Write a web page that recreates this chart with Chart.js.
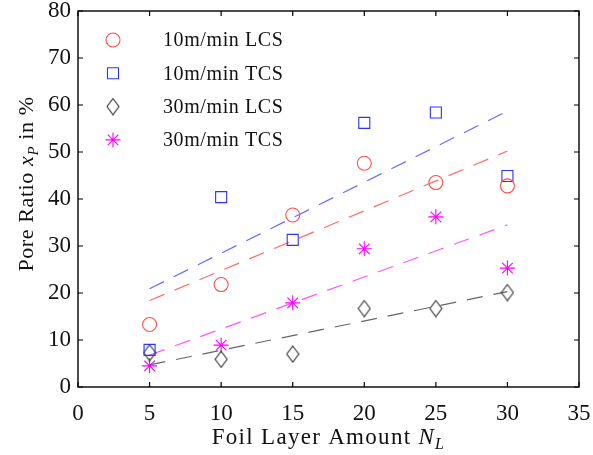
<!DOCTYPE html>
<html>
<head>
<meta charset="utf-8">
<script src="https://cdn.jsdelivr.net/npm/chart.js@4.4.0/dist/chart.umd.min.js"></script>
<style>
  html, body { margin: 0; padding: 0; background: #fff; }
  canvas { display: block; }
</style>
</head>
<body>
<canvas id="poreChart" width="593" height="455"></canvas>
<script>
// ── Data ──
const LAYERS = [5, 10, 15, 20, 25, 30];
const LCS_10 = [13.3, 21.8, 36.6, 47.6, 43.5, 42.8];
const TCS_10 = [7.9, 40.4, 31.3, 56.2, 58.4, 44.9];
const LCS_30 = [7.3, 5.9, 7.0, 16.7, 16.7, 20.1];
const TCS_30 = [4.5, 8.9, 17.9, 29.4, 36.2, 25.3];

// dashed trend lines, end points
const FIT_X = [5, 30];
const FIT_LCS_10 = [18.4, 50.2];
const FIT_TCS_10 = [20.9, 58.7];
const FIT_LCS_30 = [4.7, 20.3];
const FIT_TCS_30 = [6.8, 34.5];

const LABELS = ['10m/min LCS', '10m/min TCS', '30m/min LCS', '30m/min TCS'];
const X_TICKS = [0, 5, 10, 15, 20, 25, 30, 35];
const Y_TICKS = [0, 10, 20, 30, 40, 50, 60, 70, 80];

const SERIF = '"Liberation Serif", "Times New Roman", serif';

function pts(xs, ys) { return xs.map((x, i) => ({ x, y: ys[i] })); }

function diamondImg(w, h, color) {
  const c = document.createElement('canvas');
  c.width = w + 2; c.height = h + 2;
  const g = c.getContext('2d');
  g.strokeStyle = color; g.lineWidth = 1.1;
  g.beginPath();
  g.moveTo(c.width / 2, 1); g.lineTo(c.width - 1, c.height / 2);
  g.lineTo(c.width / 2, c.height - 1); g.lineTo(1, c.height / 2);
  g.closePath(); g.stroke();
  return c;
}
const DIAMOND = diamondImg(12, 16, '#333');

function markerSet(label, ys, color, style, radius) {
  return { label, data: pts(LAYERS, ys), showLine: false, pointStyle: style, pointRadius: radius, pointHoverRadius: radius,
    borderColor: color, backgroundColor: 'rgba(0,0,0,0)', pointBorderWidth: 1.1, legend: true };
}
function fitSet(ys, color) {
  return { label: '', data: pts(FIT_X, ys), showLine: true, pointRadius: 0, borderColor: color, borderWidth: 1.2,
    borderDash: [16, 11], fill: false, legend: false };
}

// ── Plugins: frame with inward ticks, legend in the plot, axis titles ──
const framePlugin = {
  id: 'frame',
  afterDraw(chart) {
    const { ctx, chartArea: a, scales } = chart;
    ctx.save();
    ctx.strokeStyle = '#000'; ctx.lineWidth = 1.4;
    ctx.strokeRect(a.left, a.top, a.right - a.left, a.bottom - a.top);
    ctx.lineWidth = 1.2;
    ctx.beginPath();
    X_TICKS.forEach(v => {
      const x = scales.x.getPixelForValue(v);
      ctx.moveTo(x, a.bottom); ctx.lineTo(x, a.bottom - 5);
      ctx.moveTo(x, a.top); ctx.lineTo(x, a.top + 5);
    });
    Y_TICKS.forEach(v => {
      const y = scales.y.getPixelForValue(v);
      ctx.moveTo(a.left, y); ctx.lineTo(a.left + 5, y);
      ctx.moveTo(a.right, y); ctx.lineTo(a.right - 5, y);
    });
    ctx.stroke();
    ctx.restore();
  }
};

const legendPlugin = {
  id: 'innerLegend',
  afterDraw(chart) {
    const { ctx } = chart;
    const sets = chart.data.datasets.filter(d => d.legend);
    ctx.save();
    ctx.font = '20px ' + SERIF;
    ctx.textBaseline = 'middle';
    ctx.letterSpacing = '0.6px';
    sets.forEach((d, i) => {
      const y = 40 + i * 33.3;
      ctx.strokeStyle = d.borderColor;
      ctx.fillStyle = 'rgba(0,0,0,0)';
      ctx.lineWidth = d.pointBorderWidth;
      Chart.helpers.drawPoint(ctx, { pointStyle: d.pointStyle, radius: d.pointRadius, borderWidth: d.pointBorderWidth, rotation: 0 }, 113, y);
      ctx.fillStyle = '#111';
      ctx.fillText(d.label, 163, y + 1);
    });
    ctx.restore();
  }
};

function drawRich(ctx, parts, cx, y) {
  let total = 0;
  parts.forEach(p => { ctx.font = p.font; total += ctx.measureText(p.t).width; });
  let x = cx - total / 2;
  parts.forEach(p => {
    ctx.font = p.font;
    ctx.fillText(p.t, x, y + (p.dy || 0));
    x += ctx.measureText(p.t).width;
  });
}

const titlePlugin = {
  id: 'axisTitles',
  afterDraw(chart) {
    const { ctx, chartArea: a } = chart;
    ctx.save();
    ctx.fillStyle = '#111';
    ctx.textBaseline = 'alphabetic';
    ctx.textAlign = 'left';
    ctx.letterSpacing = '1.3px';
    drawRich(ctx, [
      { t: 'Foil Layer Amount ', font: '23px ' + SERIF },
      { t: 'N', font: 'italic 23px ' + SERIF },
      { t: 'L', font: 'italic 16px ' + SERIF, dy: 5 }
    ], (a.left + a.right) / 2, 444);
    ctx.translate(33, 184);
    ctx.rotate(-Math.PI / 2);
    ctx.letterSpacing = '0.6px';
    drawRich(ctx, [
      { t: 'Pore Ratio ', font: '22px ' + SERIF },
      { t: 'x', font: 'italic 22px ' + SERIF },
      { t: 'P', font: 'italic 15px ' + SERIF, dy: 5 },
      { t: ' in %', font: '22px ' + SERIF }
    ], 0, 0);
    ctx.restore();
  }
};

const tickFont = { family: SERIF, size: 23 };

new Chart(document.getElementById('poreChart'), {
  type: 'scatter',
  data: {
    datasets: [
      markerSet(LABELS[0], LCS_10, '#ff4d4d', 'circle', 7),
      markerSet(LABELS[1], TCS_10, '#3030ff', 'rect', 7.8),
      markerSet(LABELS[2], LCS_30, '#333333', DIAMOND, 8),
      markerSet(LABELS[3], TCS_30, '#ff00ff', 'star', 7.5),
      fitSet(FIT_LCS_10, '#ff6a6a'),
      fitSet(FIT_TCS_10, '#6a6aff'),
      fitSet(FIT_LCS_30, '#666666'),
      fitSet(FIT_TCS_30, '#ff55ff')
    ]
  },
  options: {
    responsive: false,
    animation: false,
    layout: { padding: { top: 11, right: 14, left: 0, bottom: 0 } },
    plugins: { legend: { display: false }, tooltip: { enabled: false } },
    scales: {
      x: {
        type: 'linear', min: 0, max: 35,
        afterBuildTicks: s => { s.ticks = X_TICKS.map(v => ({ value: v })); },
        ticks: { font: tickFont, color: '#111', padding: 13, maxRotation: 0 },
        grid: { display: false, drawTicks: false }, border: { display: false },
        afterFit: s => { s.height = 68; s.paddingLeft = 0; s.paddingRight = 0; }
      },
      y: {
        type: 'linear', min: 0, max: 80,
        afterBuildTicks: s => { s.ticks = Y_TICKS.map(v => ({ value: v })); },
        ticks: { font: tickFont, color: '#111', padding: 7 },
        grid: { display: false, drawTicks: false }, border: { display: false },
        afterFit: s => { s.width = 78; s.paddingTop = 0; s.paddingBottom = 0; }
      }
    }
  },
  plugins: [framePlugin, legendPlugin, titlePlugin]
});
</script>
</body>
</html>
